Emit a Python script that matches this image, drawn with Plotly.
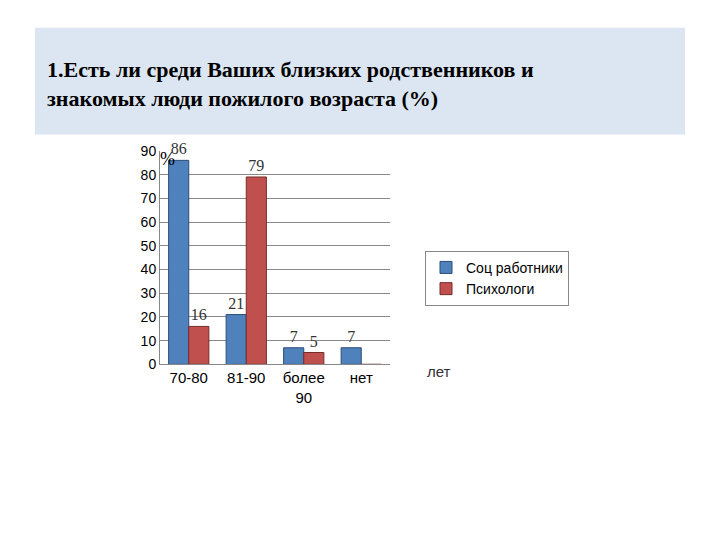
import plotly.graph_objects as go

categories = ["70-80", "81-90", "более<br>90", "нет"]
soc = [86, 21, 7, 7]
psy = [16, 79, 5, 0]
soc_labels = ["86", "21", "7", "7"]
psy_labels = ["16", "79", "5", ""]

W, H, O = 720, 540, 8
def px(x): return (x - O) / W
def py(y): return (H - (y - O)) / H

fig = go.Figure()
fig.add_trace(go.Bar(x=categories, y=soc, name="Соц работники", marker_color="#4F81BD",
                     marker_line=dict(color="#2C4D75", width=1), text=soc_labels, textposition="outside",
                     cliponaxis=False,
                     textfont=dict(family="Liberation Serif", size=16, color="#333")))
fig.add_trace(go.Bar(x=categories, y=psy, name="Психологи", marker_color="#C0504D",
                     marker_line=dict(color="#772C2A", width=1), text=psy_labels, textposition="outside",
                     cliponaxis=False,
                     textfont=dict(family="Liberation Serif", size=16, color="#333")))

fig.update_layout(
    width=W, height=H, paper_bgcolor="white", plot_bgcolor="white",
    margin=dict(l=0, r=0, t=0, b=0),
    barmode="group", bargap=0.3, bargroupgap=0.0,
    font=dict(family="Liberation Sans", size=14, color="black"),
    xaxis=dict(domain=[px(160), px(390)], showline=True, linecolor="#888", tickfont=dict(size=15), ticks=""),
    yaxis=dict(domain=[py(367), py(147)], range=[0, 90], dtick=10, showgrid=True,
               gridcolor="#888", showline=True, linecolor="#888", tickfont=dict(size=14), ticks=""),
    legend=dict(x=px(425), y=py(250), xanchor="left", yanchor="top", bordercolor="#888",
                borderwidth=1, font=dict(size=14), bgcolor="white"),
    shapes=[dict(type="rect", xref="paper", yref="paper", x0=px(35), x1=px(685),
                 y0=py(130), y1=py(20), fillcolor="#DCE6F2", line_width=0, layer="below")],
    annotations=[
        dict(xref="paper", yref="paper", x=px(45), y=py(78), xanchor="left", yanchor="middle",
             align="left", showarrow=False,
             text="<b>1.Есть ли среди Ваших близких родственников и<br>знакомых люди пожилого возраста (%)</b>",
             font=dict(family="Liberation Serif", size=22, color="black")),
        dict(xref="paper", yref="paper", x=px(158), y=py(143), xanchor="left", showarrow=False,
             text="%", font=dict(family="Liberation Serif", size=18)),
        dict(xref="paper", yref="paper", x=px(425), y=py(385), xanchor="left", showarrow=False,
             text="лет", font=dict(size=15, color="#333")),
    ],
)
fig.write_html("out.html")
